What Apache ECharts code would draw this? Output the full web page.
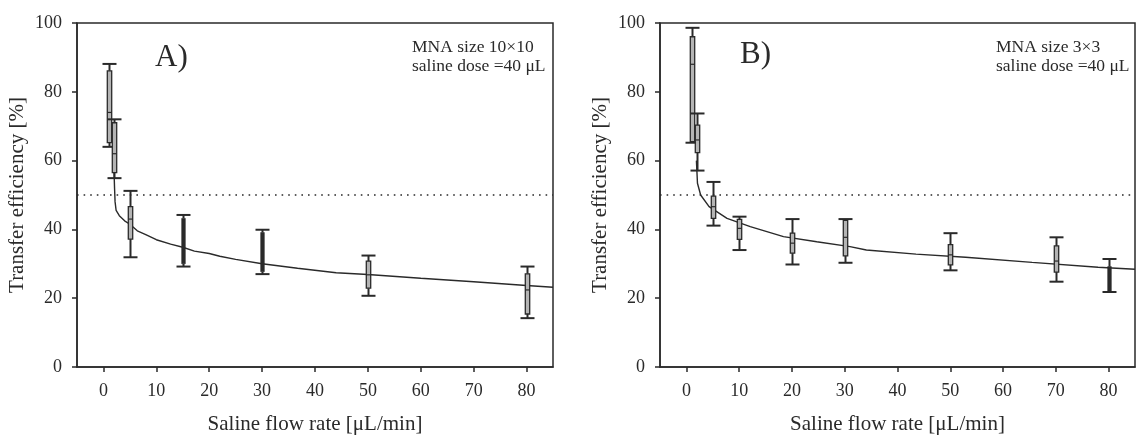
<!DOCTYPE html>
<html>
<head>
<meta charset="utf-8">
<script src="https://cdn.jsdelivr.net/npm/echarts@6/dist/echarts.min.js"></script>
<style>html,body{margin:0;padding:0;background:#fff}#c{width:1139px;height:440px}</style>
</head>
<body>
<div id="c"></div>
<script>
// ---------- data ----------
const xTicks = [0, 10, 20, 30, 40, 50, 60, 70, 80];
const yTicks = [0, 20, 40, 60, 80, 100];
const threshold = 50;

// Panel A (MNA 10x10)
const flowA = [1, 2, 5, 15, 30, 50, 80];
const lowA  = [64.0, 54.9, 31.9, 29.2, 27.0, 20.7, 14.2];
const q1A   = [65.2, 56.5, 37.2, 30.0, 27.7, 22.9, 15.4];
const medA  = [74.0, 62.0, 43.0, 36.0, 32.0, 26.8, 22.4];
const q3A   = [86.1, 71.0, 46.6, 43.2, 39.1, 30.8, 27.1];
const highA = [88.1, 72.0, 51.2, 44.2, 39.9, 32.4, 29.2];
const fitAx = [2.0, 2.1, 2.2, 2.4, 3, 4, 5, 6.4, 8, 10, 12.7, 15, 17.2, 20, 22, 25, 30, 36.7, 44, 50, 60, 70, 80, 85];
const fitAy = [57, 52, 48, 45.5, 44, 42.5, 41.5, 39.6, 38.5, 37, 35.7, 34.8, 33.7, 33, 32.2, 31.3, 30, 28.7, 27.4, 26.9, 25.8, 24.8, 23.7, 23.2];

// Panel B (MNA 3x3)
const flowB = [1, 2, 5, 10, 20, 30, 50, 70, 80];
const lowB  = [65.2, 57.1, 41.1, 34.0, 29.8, 30.3, 28.1, 24.8, 21.8];
const q1B   = [65.5, 62.3, 43.2, 37.1, 33.1, 32.3, 29.7, 27.6, 21.9];
const medB  = [88.0, 66.0, 46.6, 40.3, 36.0, 37.7, 32.6, 30.8, 26.0];
const q3B   = [96.0, 70.3, 49.7, 42.9, 38.9, 42.6, 35.6, 35.2, 29.2];
const highB = [98.6, 73.7, 53.8, 43.7, 43.0, 43.0, 38.9, 37.7, 31.4];
const fitBx = [1.9, 2.1, 2.7, 4.3, 7.7, 12.1, 18.4, 24.7, 31, 34.1, 43.5, 52.9, 65.5, 78, 85];
const fitBy = [60, 53.4, 50, 46.6, 43.2, 40.8, 37.9, 36.4, 35.0, 34.0, 32.8, 31.9, 30.4, 29.0, 28.4];

const labelA = 'A)', labelB = 'B)';
const noteA = ['MNA size 10×10', 'saline dose =40 μL'];
const noteB = ['MNA size 3×3', 'saline dose =40 μL'];
const xTitle = 'Saline flow rate [μL/min]';
const yTitle = 'Transfer efficiency [%]';

// ---------- styles ----------
const FONT = '"Liberation Serif", "Times New Roman", serif';
const INK = '#2a2a2a';
const darkA = new Set([15, 30]);   // boxes drawn as solid dark bars
const darkB = new Set([80]);

function zip(x, a, b, c, d, e) { return x.map((v, i) => [v, a[i], b[i], c[i], d[i], e[i]]); }
function pts(x, y) { return x.map((v, i) => [v, y[i]]); }

function makeRender(darkSet) {
  return function (params, api) {
    const x = api.value(0);
    const pL = api.coord([x, api.value(1)]);
    const p1 = api.coord([x, api.value(2)]);
    const pM = api.coord([x, api.value(3)]);
    const p3 = api.coord([x, api.value(4)]);
    const pH = api.coord([x, api.value(5)]);
    const cx = Math.round(pL[0]) + 0.5;
    const cap = 7, bw = 2.2;
    const ls = { stroke: INK, lineWidth: 2 };
    const kids = [
      { type: 'line', shape: { x1: cx, y1: pH[1], x2: cx, y2: p3[1] }, style: ls },
      { type: 'line', shape: { x1: cx, y1: p1[1], x2: cx, y2: pL[1] }, style: ls },
      { type: 'line', shape: { x1: cx - cap, y1: pH[1], x2: cx + cap, y2: pH[1] }, style: ls },
      { type: 'line', shape: { x1: cx - cap, y1: pL[1], x2: cx + cap, y2: pL[1] }, style: ls }
    ];
    if (darkSet.has(x)) {
      kids.push({ type: 'rect', shape: { x: cx - 1.8, y: p3[1], width: 3.6, height: p1[1] - p3[1] },
        style: { fill: INK, stroke: INK, lineWidth: 0.6 } });
    } else {
      kids.push({ type: 'rect', shape: { x: cx - bw, y: p3[1], width: bw * 2, height: p1[1] - p3[1] },
        style: { fill: '#b4b4b4', stroke: INK, lineWidth: 1.3 } });
      kids.push({ type: 'line', shape: { x1: cx - bw, y1: pM[1], x2: cx + bw, y2: pM[1] },
        style: { stroke: INK, lineWidth: 1.2 } });
    }
    return { type: 'group', children: kids };
  };
}

const grids = [
  { left: 77, top: 23, width: 476, height: 344, outerBoundsMode: 'none', containLabel: false,
    show: true, borderColor: INK, borderWidth: 1.5, backgroundColor: 'transparent' },
  { left: 660, top: 23, width: 475, height: 344, outerBoundsMode: 'none', containLabel: false,
    show: true, borderColor: INK, borderWidth: 1.5, backgroundColor: 'transparent' }
];

function xAxisFor(i) {
  return {
    gridIndex: i, type: 'value', min: -5, max: 85,
    name: xTitle, nameLocation: 'middle', nameGap: 47,
    nameTextStyle: { fontFamily: FONT, fontSize: 21, color: INK },
    axisLine: { show: true, onZero: false, lineStyle: { color: INK, width: 1.5 } },
    axisTick: { show: true, inside: false, length: 5, customValues: xTicks, lineStyle: { color: INK, width: 1.5 } },
    axisLabel: { customValues: xTicks, margin: 15, fontFamily: FONT, fontSize: 18, color: INK },
    splitLine: { show: false }
  };
}
function yAxisFor(i) {
  return {
    gridIndex: i, type: 'value', min: 0, max: 100, interval: 20,
    name: yTitle, nameLocation: 'middle', nameGap: 49, nameRotate: 90,
    nameTextStyle: { fontFamily: FONT, fontSize: 21, color: INK },
    axisLine: { show: true, onZero: false, lineStyle: { color: INK, width: 1.5 } },
    axisTick: { show: true, inside: false, length: 5, customValues: yTicks, lineStyle: { color: INK, width: 1.5 } },
    axisLabel: { customValues: yTicks, margin: 15, fontFamily: FONT, fontSize: 18, color: INK },
    splitLine: { show: false }
  };
}

function textEl(left, top, text, size) {
  return { type: 'text', left: left, top: top, style: { text: text, fontFamily: FONT, fontSize: size, fill: INK } };
}

const chart = echarts.init(document.getElementById('c'), null, { renderer: 'canvas' });
chart.setOption({
  animation: false,
  backgroundColor: '#fff',
  grid: grids,
  xAxis: [xAxisFor(0), xAxisFor(1)],
  yAxis: [yAxisFor(0), yAxisFor(1)],
  graphic: [
    textEl(155, 42, labelA, 31),
    textEl(740, 39, labelB, 31),
    textEl(412, 38, noteA[0], 17.5),
    textEl(412, 57, noteA[1], 17.5),
    textEl(996, 38, noteB[0], 17.5),
    textEl(996, 57, noteB[1], 17.5)
  ],
  series: [
    { type: 'line', xAxisIndex: 0, yAxisIndex: 0, data: [[-5, threshold], [85, threshold]], symbol: 'none',
      lineStyle: { color: INK, width: 1.6, type: [1.6, 5] }, silent: true },
    { type: 'line', xAxisIndex: 1, yAxisIndex: 1, data: [[-5, threshold], [85, threshold]], symbol: 'none',
      lineStyle: { color: INK, width: 1.6, type: [1.6, 5] }, silent: true },
    { type: 'line', xAxisIndex: 0, yAxisIndex: 0, data: pts(fitAx, fitAy), symbol: 'none',
      lineStyle: { color: INK, width: 1.4 }, silent: true },
    { type: 'line', xAxisIndex: 1, yAxisIndex: 1, data: pts(fitBx, fitBy), symbol: 'none',
      lineStyle: { color: INK, width: 1.4 }, silent: true },
    { type: 'custom', xAxisIndex: 0, yAxisIndex: 0, data: zip(flowA, lowA, q1A, medA, q3A, highA),
      renderItem: makeRender(darkA), encode: { x: 0, y: [1, 2, 3, 4, 5] }, clip: false, z: 5 },
    { type: 'custom', xAxisIndex: 1, yAxisIndex: 1, data: zip(flowB, lowB, q1B, medB, q3B, highB),
      renderItem: makeRender(darkB), encode: { x: 0, y: [1, 2, 3, 4, 5] }, clip: false, z: 5 }
  ]
});
</script>
</body>
</html>
